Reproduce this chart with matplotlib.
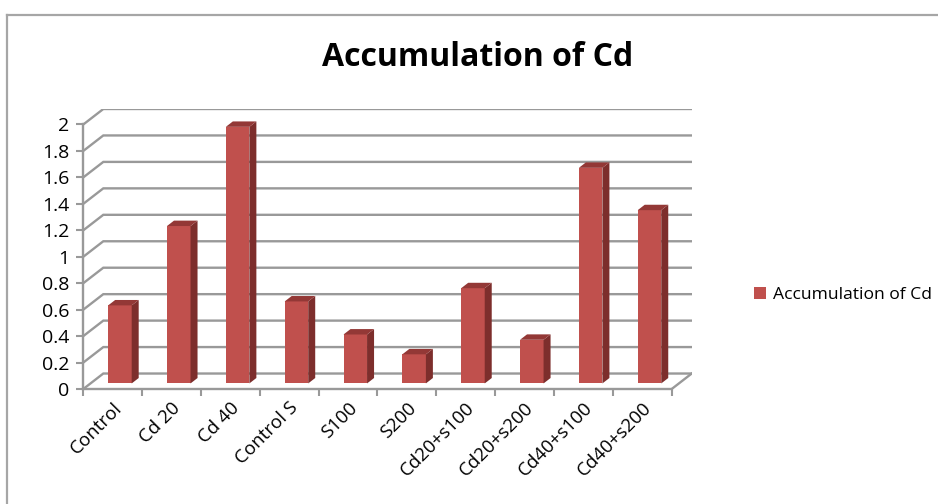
import matplotlib
matplotlib.use('Agg')
import matplotlib.pyplot as plt
from matplotlib.patches import Polygon
from matplotlib.lines import Line2D
from matplotlib.ticker import FixedLocator


categories = ['Control', 'Cd 20', 'Cd 40', 'Control S', 'S100', 'S200',
              'Cd20+s100', 'Cd20+s200', 'Cd40+s100', 'Cd40+s200']
values = [0.59, 1.19, 1.94, 0.62, 0.37, 0.22, 0.72, 0.33, 1.63, 1.31]
yticks = [0, 0.2, 0.4, 0.6, 0.8, 1, 1.2, 1.4, 1.6, 1.8, 2]
ytick_labels = ['0', '0.2', '0.4', '0.6', '0.8', '1', '1.2', '1.4', '1.6', '1.8', '2']
series_name = 'Accumulation of Cd'

FRONT = '#C0504D'
SIDE = '#7D2E2C'
TOP = '#933836'
GRID = '#999999'

# oblique depth of the floor / back wall (data units)
DX = 0.34
DY = 0.117
# bar front face sits partway into the floor, bar has its own depth
BAR_POS = 0.36
BAR_DEPTH = 0.35
BAR_W = 0.40

W, H = 938, 504
fig = plt.figure(figsize=(W / 100, H / 100), dpi=100)
fig.patch.set_facecolor('white')

# outer chart border
fig.add_artist(Line2D([7 / W, 7 / W], [0, 1 - 15 / H], transform=fig.transFigure,
                      color='#A6A6A6', lw=1.6))
fig.add_artist(Line2D([7 / W, 1], [1 - 15 / H, 1 - 15 / H], transform=fig.transFigure,
                      color='#A6A6A6', lw=1.6))

left, right = 83.3 / W, 691.7 / W
bottom, top = 1 - 389 / H, 1 - 109 / H
ax = fig.add_axes([left, bottom, right - left, top - bottom])
n = len(categories)
ymax = yticks[-1]
ax.set_xlim(0, n + DX)
ax.set_ylim(0, ymax + DY)
ax.patch.set_alpha(0)

# back wall gridlines with their diagonal returns on the side wall
for v in yticks:
    ax.plot([0, DX, n + DX], [v, v + DY, v + DY], color=GRID, lw=1.7,
            solid_joinstyle='miter', zorder=1)
# right edge of the floor
ax.plot([n, n + DX], [0, DY], color=GRID, lw=1.7, zorder=1)

# bars: front face via ax.bar, side and top as parallelograms
sx, sy = BAR_POS * DX, BAR_POS * DY
ddx, ddy = BAR_DEPTH * DX, BAR_DEPTH * DY
centers = [i + 0.5 + sx for i in range(n)]
ax.bar(centers, values, width=BAR_W, bottom=sy, color=FRONT, zorder=3,
       label=series_name)
for c, v in zip(centers, values):
    x0, x1 = c - BAR_W / 2, c + BAR_W / 2
    y0, y1 = sy, sy + v
    ax.add_patch(Polygon([(x1, y0), (x1 + ddx, y0 + ddy), (x1 + ddx, y1 + ddy), (x1, y1)],
                         closed=True, facecolor=SIDE, edgecolor='none', zorder=3))
    ax.add_patch(Polygon([(x0, y1), (x1, y1), (x1 + ddx, y1 + ddy), (x0 + ddx, y1 + ddy)],
                         closed=True, facecolor=TOP, edgecolor='none', zorder=3))

# front axes
for s in ['top', 'right']:
    ax.spines[s].set_visible(False)
ax.spines['left'].set_bounds(0, ymax)
ax.spines['bottom'].set_bounds(0, n)
for s in ['left', 'bottom']:
    ax.spines[s].set_color(GRID)
    ax.spines[s].set_linewidth(1.7)
    ax.spines[s].set_zorder(2)

ax.set_yticks(yticks)
ax.set_yticklabels(ytick_labels, fontsize=14, family='Open Sans')
ax.tick_params(axis='y', length=5, width=1.5, color=GRID, pad=5)

ax.xaxis.set_major_locator(FixedLocator(list(range(n + 1))))
ax.set_xticklabels([])
ax.set_xticks([i + 0.5 for i in range(n)], minor=True)
ax.set_xticklabels(categories, minor=True, rotation=45, ha='right',
                   rotation_mode='anchor', fontsize=13.5, family='Open Sans')
ax.tick_params(axis='x', which='major', length=5, width=1.5, color=GRID)
ax.tick_params(axis='x', which='minor', length=0, pad=7)

fig.text(478 / W, 1 - 58 / H, series_name, ha='center', va='center',
         fontsize=23, fontweight='bold', family='Open Sans')

fig.legend(loc='center left', bbox_to_anchor=(738 / W, 1 - 295 / H),
           frameon=False, prop={'family': 'Open Sans', 'size': 12.6},
           handlelength=0.7, handleheight=0.7, handletextpad=0.4)

fig.savefig('out.png', dpi=100)
